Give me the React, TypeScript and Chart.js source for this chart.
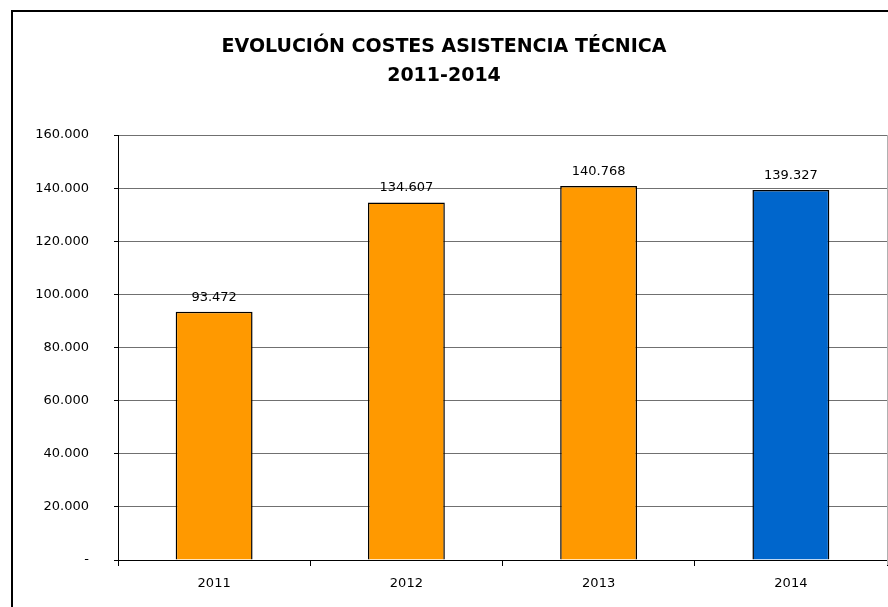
import React, { useEffect, useRef } from "react";
import { Chart, registerables } from "chart.js";

Chart.register(...registerables);

const categories = ["2011", "2012", "2013", "2014"];
const values = [93472, 134607, 140768, 139327];
const barColors = ["#FF9900", "#FF9900", "#FF9900", "#0066CC"];
const titleLines = ["EVOLUCIÓN COSTES ASISTENCIA TÉCNICA", "2011-2014"];
const yMin = 0;
const yMax = 160000;
const yStep = 20000;

const fmt = (v: number) => {
  if (v === 0) return "-";
  const s = Math.round(v).toString();
  return s.replace(/\B(?=(\d{3})+(?!\d))/g, ".");
};

const FONT = "'DejaVu Sans', Verdana, sans-serif";

const framePlugin = {
  id: "frame",
  beforeDraw(chart: any) {
    const ctx = chart.ctx;
    ctx.save();
    ctx.fillStyle = "#fff";
    ctx.fillRect(0, 0, chart.width, chart.height);
    ctx.strokeStyle = "#000";
    ctx.lineWidth = 2;
    ctx.strokeRect(12, 11, chart.width + 20, chart.height + 20);
    ctx.restore();
  },
  afterDraw(chart: any) {
    const ctx = chart.ctx;
    const area = chart.chartArea;
    ctx.save();
    ctx.fillStyle = "#000";
    ctx.textAlign = "center";
    ctx.textBaseline = "middle";
    ctx.font = `bold 19px ${FONT}`;
    ctx.fillText(titleLines[0], 444, 47);
    ctx.fillText(titleLines[1], 444, 76);
    // value labels
    const meta = chart.getDatasetMeta(0);
    ctx.font = `13px ${FONT}`;
    ctx.textBaseline = "bottom";
    meta.data.forEach((bar: any, i: number) => {
      ctx.fillText(fmt(values[i]), bar.x, bar.y - 8);
    });
    // plot right edge
    ctx.strokeStyle = "#b0b0b0";
    ctx.lineWidth = 1;
    ctx.beginPath();
    ctx.moveTo(area.right + 0.5, area.top);
    ctx.lineTo(area.right + 0.5, area.bottom + 5);
    ctx.stroke();
    ctx.restore();
  },
};

export default function App() {
  const ref = useRef<HTMLCanvasElement>(null);
  useEffect(() => {
    const chart = new Chart(ref.current!, {
      type: "bar",
      data: {
        labels: categories,
        datasets: [
          {
            data: values,
            backgroundColor: barColors,
            borderColor: "#000",
            borderWidth: 1.5,
            categoryPercentage: 1,
            barPercentage: 0.4,
          },
        ],
      },
      options: {
        animation: false,
        responsive: false,
        devicePixelRatio: 1,
        layout: { padding: { top: 135, left: 0, right: 1, bottom: 0 } },
        plugins: { legend: { display: false }, title: { display: false }, tooltip: { enabled: false } },
        scales: {
          x: {
            grid: { display: true, drawOnChartArea: false, offset: true, tickLength: 6, color: "#000" },
            border: { display: true, color: "#000", width: 1 },
            ticks: { color: "#000", font: { family: FONT, size: 13 }, padding: 10 },
            afterFit(scale: any) {
              scale.height = 47;
            },
          },
          y: {
            min: yMin,
            max: yMax,
            ticks: {
              stepSize: yStep,
              color: "#000",
              font: { family: FONT, size: 13 },
              padding: 25,
              callback: (v: any) => fmt(Number(v)),
            },
            grid: { color: "#707070", tickLength: 4, tickColor: "#000" },
            border: { display: true, color: "#000", width: 1 },
            afterFit(scale: any) {
              scale.width = 118;
            },
          },
        },
      },
      plugins: [framePlugin],
    });
    return () => chart.destroy();
  }, []);
  return (
    <div style={{ position: "fixed", left: 0, top: 0, width: 888, height: 607 }}>
      <canvas ref={ref} width={888} height={607} style={{ width: 888, height: 607 }} />
    </div>
  );
}
